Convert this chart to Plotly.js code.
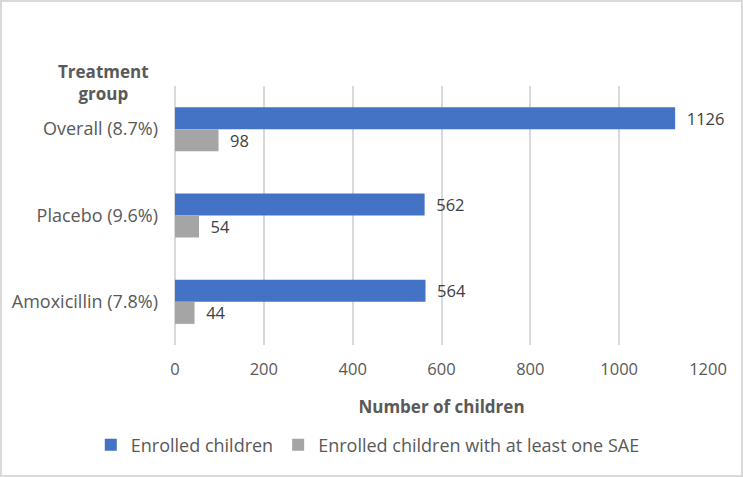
<!DOCTYPE html>
<html><head><meta charset="utf-8">
<script src="https://cdn.plot.ly/plotly-3.0.1.min.js"></script>
<style>html,body{margin:0;padding:0;background:#fff}</style>
</head><body>
<div id="chart" style="width:743px;height:477px"></div>
<script>
const categories = ["Overall (8.7%)", "Placebo (9.6%)", "Amoxicillin (7.8%)"];
const enrolled = [1126, 562, 564];
const withSAE = [98, 54, 44];
const seriesNames = ["Enrolled children", "Enrolled children with at least one SAE"];
const xTicks = [0, 200, 400, 600, 800, 1000, 1200];

const font = "Open Sans, DejaVu Sans, sans-serif";
const pad = "\u00a0\u00a0";
const traces = [
  {type:"bar", orientation:"h", name:seriesNames[0], y:categories, x:enrolled,
   marker:{color:"#4472C4"}, text:enrolled.map(v => pad + v), textposition:"outside",
   textfont:{family:font, size:18, color:"#404040"}, cliponaxis:false},
  {type:"bar", orientation:"h", name:seriesNames[1], y:categories, x:withSAE,
   marker:{color:"#A5A5A5"}, text:withSAE.map(v => pad + v), textposition:"outside",
   textfont:{family:font, size:18, color:"#404040"}, cliponaxis:false}
];
const layout = {
  width:743, height:477,
  margin:{l:175, r:35, t:86, b:132, autoexpand:false},
  paper_bgcolor:"#fff", plot_bgcolor:"#fff",
  font:{family:font, color:"#595959", size:16},
  barmode:"group", bargap:0.49, bargroupgap:0,
  xaxis:{range:[0,1200], tickvals:xTicks, ticktext:xTicks.map(String),
    showgrid:true, gridcolor:"#d9d9d9", gridwidth:2, zeroline:true, zerolinecolor:"#d9d9d9", zerolinewidth:2,
    tickfont:{size:16.5, color:"#595959"}, ticks:"", ticklen:0, ticklabelstandoff:12, automargin:false,
    title:{text:"<b>Number of children</b>", font:{size:17, color:"#595959"}, standoff:22}},
  yaxis:{autorange:"reversed", showgrid:false, zeroline:false, ticks:"", automargin:false,
    tickfont:{size:18, color:"#595959"}, ticklabelstandoff:16},
  legend:{orientation:"h", xref:"paper", x:-0.158, xanchor:"left", yref:"paper", y:-0.386, yanchor:"middle",
    font:{size:18, color:"#595959"}, traceorder:"normal", itemwidth:30},
  showlegend:true,
  annotations:[{xref:"paper", yref:"paper", x:-0.135, y:1.015, xanchor:"center", yanchor:"middle",
    text:"<b>Treatment<br>group</b>", showarrow:false, font:{size:17, color:"#595959"}}],
  shapes:[{type:"rect", xref:"paper", yref:"paper", x0:-0.3265, x1:1.0638, y0:-0.506, y1:1.328,
    line:{color:"#d9d9d9", width:2}, fillcolor:"rgba(0,0,0,0)", layer:"below"}]
};
Plotly.newPlot("chart", traces, layout, {displayModeBar:false, staticPlot:true});
</script>
</body></html>
